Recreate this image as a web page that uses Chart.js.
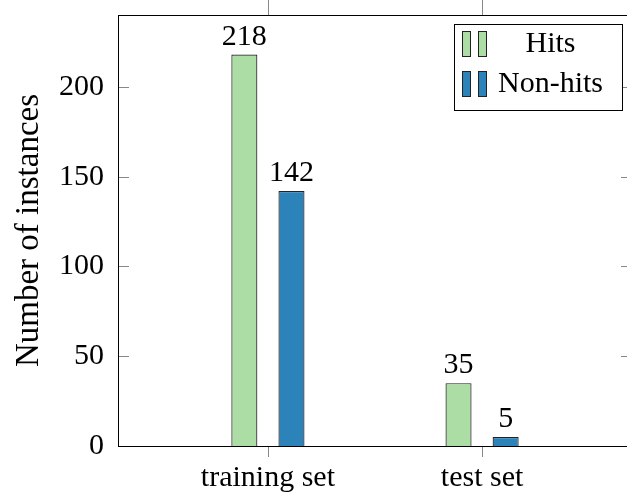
<!DOCTYPE html>
<html>
<head>
<meta charset="utf-8">
<script src="https://cdn.jsdelivr.net/npm/chart.js@4"></script>
<style>
  html, body { margin: 0; padding: 0; background: #fff; overflow: hidden; }
  #wrap { width: 637px; height: 496px; }
</style>
</head>
<body>
<div id="wrap"><canvas id="chart"></canvas></div>
<script>
const categories = ["training set", "test set"];
const hits = [218, 35];
const nonHits = [142, 5];
const yTicks = [0, 50, 100, 150, 200];

const FONT = "'Liberation Serif', 'Times New Roman', serif";

// frame, mirrored tick marks, value labels and the boxed legend
const decorations = {
  id: "decorations",
  afterDatasetsDraw(chart) {
    const { ctx, chartArea: a, scales } = chart;
    ctx.save();

    // tick marks
    ctx.strokeStyle = "#888";
    ctx.lineWidth = 1;
    ctx.beginPath();
    for (const t of scales.y.ticks) {
      const y = Math.round(scales.y.getPixelForValue(t.value)) + 0.5;
      ctx.moveTo(a.left, y); ctx.lineTo(a.left + 11, y);
      ctx.moveTo(a.right, y); ctx.lineTo(a.right - 11, y);
    }
    for (const t of scales.x.ticks) {
      const x = Math.round(scales.x.getPixelForValue(t.value)) + 0.5;
      ctx.moveTo(x, a.top); ctx.lineTo(x, a.top - 15);
      ctx.moveTo(x, a.bottom); ctx.lineTo(x, a.bottom + 11);
    }
    ctx.stroke();

    // frame
    ctx.strokeStyle = "#000";
    ctx.strokeRect(Math.round(a.left) + 0.5, Math.round(a.top) + 0.5,
      Math.round(a.right - a.left), Math.round(a.bottom - a.top));

    // value labels
    ctx.fillStyle = "#000";
    ctx.font = "30px " + FONT;
    ctx.textAlign = "center";
    ctx.textBaseline = "alphabetic";
    chart.data.datasets.forEach((ds, i) => {
      chart.getDatasetMeta(i).data.forEach((el, j) => {
        ctx.fillText(String(ds.data[j].y), el.x, el.y - 10);
      });
    });

    // legend
    const w = 168, h = 86;
    const lx = Math.round(a.right - 10 - w) + 0.5, ly = Math.round(a.top + 9) + 0.5;
    ctx.fillStyle = "#fff";
    ctx.fillRect(lx, ly, w, h);
    ctx.strokeStyle = "#000";
    ctx.strokeRect(lx, ly, w, h);
    ctx.textBaseline = "middle";
    chart.data.datasets.forEach((ds, i) => {
      const cy = ly + 19 + i * 40;
      ctx.fillStyle = ds.backgroundColor;
      ctx.strokeStyle = "#222";
      for (const bx of [8, 24]) {
        ctx.fillRect(lx + bx, cy - 12, 8, 25);
        ctx.strokeRect(lx + bx, cy - 12, 8, 25);
      }
      ctx.fillStyle = "#000";
      ctx.fillText(ds.label, lx + 96, cy + 1);
    });
    ctx.restore();
  }
};

new Chart(document.getElementById("chart"), {
  type: "bar",
  data: {
    datasets: [
      {
        label: "Hits",
        data: hits.map((v, i) => ({ x: i, y: v })),
        backgroundColor: "#abdda4",
        borderColor: "#222",
        borderWidth: 1.2,
      },
      {
        label: "Non-hits",
        data: nonHits.map((v, i) => ({ x: i, y: v })),
        backgroundColor: "#2b83ba",
        borderColor: "#222",
        borderWidth: 1.2,
      },
    ],
  },
  options: {
    responsive: true,
    maintainAspectRatio: false,
    animation: false,
    categoryPercentage: 0.44,
    barPercentage: 0.553,
    layout: { padding: { top: 15, right: 5, left: 0, bottom: 0 } },
    scales: {
      x: {
        type: "linear",
        offset: false,
        min: -0.7,
        max: 1.7,
        afterBuildTicks: (s) => { s.ticks = categories.map((_, i) => ({ value: i })); },
        afterFit: (s) => { s.height = 50; s.paddingLeft = 0; s.paddingRight = 0; },
        grid: { display: false, offset: false },
        border: { display: false },
        ticks: {
          padding: 6,
          color: "#000",
          font: { family: FONT, size: 30 },
          callback: (v) => categories[v],
        },
      },
      y: {
        min: 0,
        max: 240,
        afterBuildTicks: (s) => { s.ticks = yTicks.map((v) => ({ value: v })); },
        afterFit: (s) => { s.width = 118; s.paddingTop = 0; s.paddingBottom = 0; },
        grid: { display: false },
        border: { display: false },
        ticks: {
          padding: 6,
          color: "#000",
          font: { family: FONT, size: 30 },
        },
        title: {
          display: true,
          text: "Number of instances",
          color: "#000",
          font: { family: FONT, size: 33 },
          padding: { top: 10, bottom: 0 },
        },
      },
    },
    plugins: {
      legend: { display: false },
      tooltip: { enabled: false },
    },
  },
  plugins: [decorations],
});
</script>
</body>
</html>
